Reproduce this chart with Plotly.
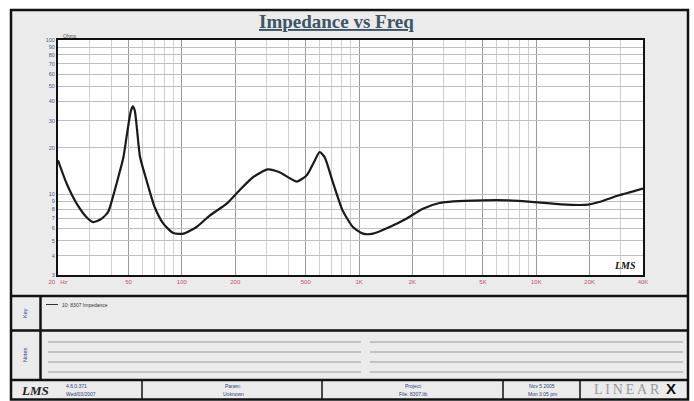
import plotly.graph_objects as go

# ---------------- data ----------------
freq_hz = [20, 22.4, 25.5, 29, 31.6, 35, 38.4, 41, 44, 46.8, 49.5, 51.5, 52.8, 54.2,
           55.8, 58, 63.2, 70.2, 78.6, 89.5, 102, 121, 144, 179, 211, 252, 305, 356,
           444, 507, 557, 599, 639, 711, 807, 923, 1053, 1198, 1487, 1846, 2290, 2842,
           3400, 5030, 6840, 9710, 13800, 19600, 22600, 29300, 40000]
impedance_ohm = [16.6, 11.7, 8.7, 7.1, 6.6, 6.9, 7.7, 9.8, 13.2, 17.4, 26.5, 34.5,
                 37.2, 35.0, 26.5, 17.6, 12.3, 8.27, 6.45, 5.61, 5.56, 6.14, 7.3, 8.7,
                 10.6, 12.9, 14.5, 13.9, 12.1, 13.3, 16.2, 18.8, 17.4, 12.0, 7.87, 6.14,
                 5.56, 5.56, 6.14, 6.95, 8.07, 8.78, 9.0, 9.14, 9.14, 8.91, 8.6, 8.57,
                 8.91, 9.85, 10.9]

x_tick_vals = [20, 50, 100, 200, 500, 1000, 2000, 5000, 10000, 20000, 40000]
x_tick_text = ["20   Hz", "50", "100", "200", "500", "1K", "2K", "5K", "10K", "20K", "40K"]
y_tick_vals = [3, 4, 5, 6, 7, 8, 9, 10, 20, 30, 40, 50, 60, 70, 80, 90, 100]
y_tick_text = ["3", "4", "5", "6", "7", "8", "9", "10", "20", "30", "40", "50",
               "60", "70", "80", "90", "100"]
x_minor_vals = [m * 10 ** k for k in range(1, 5) for m in range(1, 10)
                if 20 <= m * 10 ** k <= 40000]

title_text = "Impedance vs Freq"
legend_text = "10: 8307 Impedance"

# ---------------- layout geometry (pixels) ----------------
W, H = 694, 401
L, R, T, B = 58, 643, 40, 275


def px(x):
    return (x - L) / (R - L)


def py(y):
    return (B - y) / (B - T)


fig = go.Figure()
fig.add_trace(go.Scatter(
    x=freq_hz, y=impedance_ohm, mode="lines",
    line=dict(color="#1a1a1a", width=2.2, shape="spline", smoothing=0.6),
    hoverinfo="x+y", showlegend=False))

shapes = []
# outer gray window with black frame
shapes.append(dict(type="rect", xref="paper", yref="paper", layer="below",
                   x0=px(11), x1=px(688), y0=py(399.5), y1=py(10),
                   fillcolor="#ebebeb", line=dict(color="#111", width=2.5)))
# white plot area
shapes.append(dict(type="rect", xref="paper", yref="paper", layer="below",
                   x0=0, x1=1, y0=0, y1=1, fillcolor="white",
                   line=dict(width=0)))
# section separators
for yy in [296, 330.5, 380]:
    shapes.append(dict(type="line", xref="paper", yref="paper",
                       x0=px(11), x1=px(688), y0=py(yy), y1=py(yy),
                       line=dict(color="#111", width=2.5)))
shapes.append(dict(type="line", xref="paper", yref="paper",
                   x0=px(40.5), x1=px(40.5), y0=py(296), y1=py(380),
                   line=dict(color="#111", width=2.5)))
for xx in [142, 322, 503, 580]:
    shapes.append(dict(type="line", xref="paper", yref="paper",
                       x0=px(xx), x1=px(xx), y0=py(380), y1=py(399.5),
                       line=dict(color="#111", width=1.5)))
# notes lines
for yy in [342, 352, 362, 372]:
    for (a, b) in [(48, 361), (370, 683)]:
        shapes.append(dict(type="line", xref="paper", yref="paper",
                           x0=px(a), x1=px(b), y0=py(yy), y1=py(yy),
                           line=dict(color="#b4b4b4", width=1.5)))
# legend sample line
shapes.append(dict(type="line", xref="paper", yref="paper",
                   x0=px(46), x1=px(58), y0=py(304.5), y1=py(304.5),
                   line=dict(color="#333", width=1)))

ann = []


def txt(x, y, s, size=6, color="#2b3f80", family="Liberation Sans", xanchor="center",
        angle=0):
    ann.append(dict(xref="paper", yref="paper", x=px(x), y=py(y), text=s,
                    showarrow=False, xanchor=xanchor, yanchor="middle",
                    textangle=angle, font=dict(size=size, color=color, family=family)))


txt(336, 22, "<b><u>" + title_text + "</u></b>", size=19, color="#3b5566",
    family="Liberation Serif")
txt(61, 36, "Ohms", size=5, color="#555", xanchor="left")
txt(625, 265, "<b><i>LMS</i></b>", size=10, color="#111", family="Liberation Serif")
txt(60, 304.5, legend_text, size=5, color="#333", xanchor="left")
txt(25, 313, "Key", size=5.5, color="#2b3f80", angle=-90)
txt(25, 355, "Notes", size=5.5, color="#2b3f80", angle=-90)
txt(35, 390, "<b><i>LMS</i></b>", size=13, color="#222", family="Liberation Serif")
txt(64, 386, "4.6.0.371", size=5, xanchor="left")
txt(64, 394, "Wed/03/2007", size=5, xanchor="left")
txt(233, 386, "Param:", size=5)
txt(233, 394, "Unknown", size=5)
txt(413, 386, "Project:", size=5)
txt(413, 394, "File: 8307.lib", size=5)
txt(542, 386, "Nov 5 2005", size=5)
txt(542, 394, "Mon 3:05 pm", size=5)
txt(627, 389, "L\u2009I\u2009N\u2009E\u2009A\u2009R", size=14, color="#9a9a9a",
    family="Liberation Serif")
txt(671, 388, "<b>X</b>", size=15, color="#111", family="Liberation Sans")

fig.update_layout(
    width=W, height=H,
    margin=dict(l=L, r=W - R, t=T, b=H - B, pad=0),
    paper_bgcolor="white", plot_bgcolor="white",
    shapes=shapes, annotations=ann,
    xaxis=dict(type="log", range=[1.30103, 4.60206],
               tickvals=x_tick_vals, ticktext=x_tick_text,
               tickfont=dict(size=6, color="#c0506a", family="Liberation Sans"),
               showgrid=True, gridcolor="#9a9a9a", gridwidth=1,
               minor=dict(tickvals=x_minor_vals, showgrid=True, gridcolor="#cfcfcf",
                          gridwidth=1),
               showline=True, linecolor="#111", linewidth=2, mirror=True,
               ticks="", zeroline=False),
    yaxis=dict(type="log", range=[0.4771, 2.0],
               tickvals=y_tick_vals, ticktext=y_tick_text,
               tickfont=dict(size=5.5, color="#4a5a8a", family="Liberation Sans"),
               showgrid=True, gridcolor="#bdbdbd", gridwidth=1,
               showline=True, linecolor="#111", linewidth=2, mirror=True,
               ticks="", zeroline=False),
)

fig.write_html("out.html",
               config={"displayModeBar": False},
               post_script="document.body.style.margin='0';"
                           "document.body.style.overflow='hidden';")
